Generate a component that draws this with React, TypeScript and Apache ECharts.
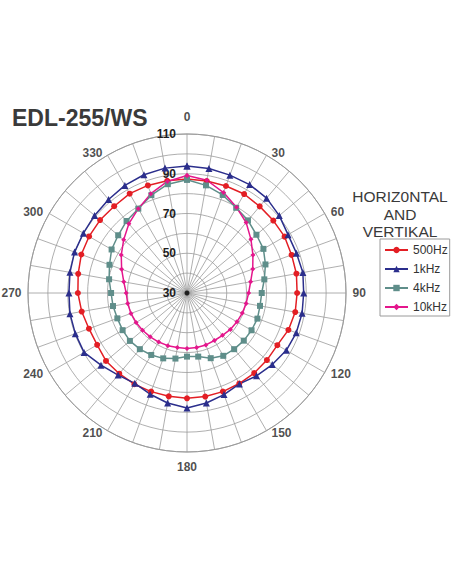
import React, { useEffect, useRef } from 'react';
import * as echarts from 'echarts';

const FONT = '"Liberation Sans", Arial, sans-serif';

const COLORS = {
  GRID: '#9a9a9a',
  LABEL: '#1e1e1e',
  TITLE: '#3a3a3a',
  PALLET: ['#e31e24', '#2b2e8c', '#5f8e8a', '#e4168c'],
};

// measurement directions, clockwise from the top (degrees)
const ANGLES = [
  0, 10, 20, 30, 40, 50, 60, 70, 80, 90, 100, 110, 120, 130, 140, 150, 160, 170,
  180, 190, 200, 210, 220, 230, 240, 250, 260, 270, 280, 290, 300, 310, 320, 330, 340, 350,
];
const ANGLE_LABELS = [0, 30, 60, 90, 120, 150, 180, 210, 240, 270, 300, 330];
const RADIUS_LABELS = [30, 50, 70, 90, 110];
const SERIES_NAMES = ['500Hz', '1kHz', '4kHz', '10kHz'];

const HZ500 = [
  87.4, 87.2, 87.3, 87.5, 86.9, 86.7, 86.7, 86.0, 85.9, 85.4, 85.3, 84.3, 82.5, 82.5, 82.6, 82.6, 82.8, 82.9,
  83.0, 82.8, 82.8, 83.0, 83.0, 83.2, 82.2, 82.5, 83.8, 84.9, 85.6, 86.6, 86.9, 87.1, 87.0, 87.7, 87.6, 87.3,
];
const KHZ1 = [
  93.9, 93.6, 93.1, 93.0, 92.3, 90.6, 88.7, 88.6, 89.2, 88.7, 88.8, 88.5, 87.7, 86.0, 84.4, 82.8, 84.4, 86.2,
  87.9, 86.2, 84.2, 82.5, 83.9, 86.5, 89.8, 89.8, 89.8, 89.4, 89.8, 90.2, 90.2, 90.7, 91.4, 92.5, 93.3, 93.8,
];
const KHZ4 = [
  87.0, 85.0, 82.5, 79.5, 77.7, 75.6, 74.4, 72.0, 69.5, 67.6, 67.3, 67.7, 67.5, 67.3, 66.9, 66.5, 64.9, 62.5,
  62.0, 63.5, 65.0, 66.0, 66.9, 67.5, 67.4, 67.3, 67.8, 68.2, 69.8, 71.5, 73.8, 75.2, 77.3, 79.0, 82.4, 85.6,
];
const KHZ10 = [
  89.1, 87.6, 83.8, 79.8, 76.3, 72.0, 68.3, 65.2, 62.5, 61.0, 60.2, 59.6, 59.0, 58.5, 57.8, 57.6, 57.8, 57.8,
  57.9, 57.9, 58.2, 58.5, 58.8, 59.2, 59.6, 60.0, 60.3, 60.6, 62.3, 65.0, 68.2, 71.6, 75.5, 79.0, 83.2, 87.0,
];

// [radius, angle] pairs, closed back to the start
const toPolar = (vals: number[]) =>
  vals.map((v, i) => [v, ANGLES[i]]).concat([[vals[0], 360]]);

const lineSeries = (name: string, vals: number[], color: string, symbol: string, size: number) => ({
  name,
  type: 'line',
  coordinateSystem: 'polar',
  polarIndex: 0,
  data: toPolar(vals),
  symbol,
  symbolSize: size,
  lineStyle: { color, width: 1.5 },
  itemStyle: { color },
});

// which side of its anchor an angle label sits on, and how far
const labelSide = (a: number) => (a === 0 ? 'top' : a === 180 ? 'bottom' : a < 180 ? 'right' : 'left');
const labelGap = (a: number) => (a === 0 ? 8 : a === 180 ? 5 : 3);

const CENTER = [187, 293];

const App: React.FC = () => {
  const divEL = useRef(null);

  useEffect(() => {
    const instance = echarts.init(divEL.current as any, null, { renderer: 'svg' });

    const option: any = {
      animation: false,
      backgroundColor: '#fff',
      textStyle: { fontFamily: FONT },
      title: {
        text: 'EDL-255/WS',
        left: 12,
        top: 106,
        padding: 0,
        textStyle: { fontSize: 23, fontWeight: 'bold', color: COLORS.TITLE, fontFamily: FONT },
      },
      graphic: [
        {
          type: 'text',
          x: 400,
          y: 188,
          style: {
            text: 'HORIZ0NTAL\nAND\nVERTIKAL',
            textAlign: 'center',
            font: `15.5px ${FONT}`,
            lineHeight: 17.5,
            fill: COLORS.TITLE,
          },
        },
      ],
      legend: {
        data: SERIES_NAMES,
        orient: 'vertical',
        left: 380,
        top: 239,
        padding: [5, 2, 3, 4],
        itemGap: 7,
        itemWidth: 23,
        itemHeight: 8,
        borderColor: COLORS.GRID,
        borderWidth: 1,
        textStyle: { fontSize: 12, color: '#333', fontFamily: FONT },
      },
      // 0: the plot itself, 1: a ring just outside it that anchors the angle labels
      polar: [
        { center: CENTER, radius: 159 },
        { center: CENTER, radius: 162 },
      ],
      angleAxis: [
        {
          polarIndex: 0,
          type: 'value',
          min: 0,
          max: 360,
          interval: 10,
          startAngle: 90,
          clockwise: true,
          axisLine: { lineStyle: { color: COLORS.GRID, width: 1 } },
          axisTick: { show: false },
          axisLabel: { show: false },
          splitLine: { lineStyle: { color: COLORS.GRID, width: 0.8 } },
        },
        {
          polarIndex: 1,
          type: 'value',
          min: 0,
          max: 360,
          startAngle: 90,
          clockwise: true,
          show: false,
        },
      ],
      radiusAxis: [
        {
          polarIndex: 0,
          type: 'value',
          min: 30,
          max: 110,
          interval: 10,
          axisLine: { show: false },
          axisTick: { show: false },
          axisLabel: {
            margin: 11,
            color: COLORS.LABEL,
            fontSize: 12,
            fontWeight: 'bold',
            fontFamily: FONT,
            formatter: (v: number) => (RADIUS_LABELS.includes(v) ? String(v) : ''),
          },
          splitLine: { lineStyle: { color: COLORS.GRID, width: 0.8 } },
        },
        {
          polarIndex: 1,
          type: 'value',
          min: 0,
          max: 1,
          show: false,
        },
      ],
      series: [
        lineSeries(SERIES_NAMES[0], HZ500, COLORS.PALLET[0], 'circle', 6),
        lineSeries(SERIES_NAMES[1], KHZ1, COLORS.PALLET[1], 'triangle', 7),
        lineSeries(SERIES_NAMES[2], KHZ4, COLORS.PALLET[2], 'rect', 6),
        lineSeries(SERIES_NAMES[3], KHZ10, COLORS.PALLET[3], 'diamond', 5),
        {
          type: 'scatter',
          coordinateSystem: 'polar',
          polarIndex: 0,
          data: [[30, 0]],
          symbolSize: 5,
          silent: true,
          itemStyle: { color: '#000' },
        },
        {
          type: 'scatter',
          coordinateSystem: 'polar',
          polarIndex: 1,
          data: ANGLE_LABELS.map((a) => ({
            value: [1, a],
            label: { position: labelSide(a), distance: labelGap(a) },
          })),
          symbolSize: 1,
          silent: true,
          itemStyle: { color: 'rgba(0,0,0,0)' },
          label: {
            show: true,
            color: COLORS.LABEL,
            fontSize: 12,
            fontWeight: 'bold',
            fontFamily: FONT,
            formatter: (p: any) => String(p.value[1]),
          },
        },
      ],
    };

    instance.setOption(option);
    return () => {
      instance.dispose();
    };
  }, []);

  return (
    <div
      ref={divEL}
      style={{ position: 'absolute', left: 0, top: 0, width: 452, height: 584 }}
    ></div>
  );
};

export default App;
